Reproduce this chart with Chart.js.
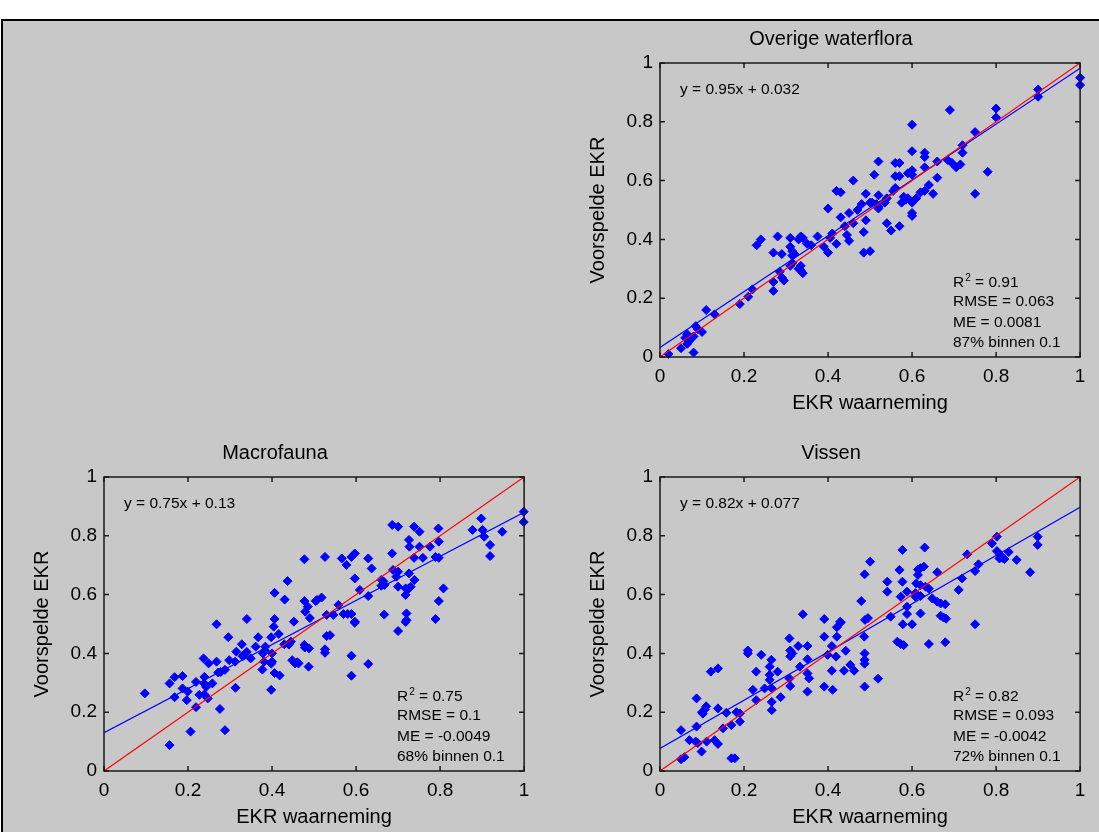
<!DOCTYPE html>
<html>
<head>
<meta charset="utf-8">
<script src="https://cdn.jsdelivr.net/npm/chart.js@4.4.0/dist/chart.umd.min.js"></script>
<style>
  html, body { margin: 0; padding: 0; background: #fff; width: 1099px; height: 832px; overflow: hidden; }
  #fig { position: absolute; left: 1px; top: 19px; width: 1100px; height: 820px; background: #c8c8c8;
         border-left: 2px solid #000; border-top: 2px solid #000; }
  canvas { position: absolute; }
</style>
</head>
<body>
<div id="fig"></div>
<canvas id="flora" width="514" height="392" style="left:580px;top:23px"></canvas>
<canvas id="macro" width="514" height="392" style="left:24px;top:437px"></canvas>
<canvas id="vis" width="514" height="392" style="left:580px;top:437px"></canvas>
<script>
// axis ticks
const tickValues = [0, 0.2, 0.4, 0.6, 0.8, 1];
const tickLabels = ['0', '0.2', '0.4', '0.6', '0.8', '1'];
const xTitle = 'EKR waarneming';
const yTitle = 'Voorspelde EKR';

// Overige waterflora
const floraObs = [0.69,0.60,0.80,0.80,0.90,0.90,1.0,1.0,0.75,0.75,0.78,0.60,0.63,0.63,0.63,0.72,0.72,0.66,0.685,0.695,0.705,0.715,0.52,0.51,0.56,0.57,0.56,0.57,0.59,0.60,0.60,0.66,0.64,0.63,0.62,0.65,0.555,0.56,0.58,0.59,0.61,0.52,0.54,0.505,0.52,0.60,0.585,
  0.46,0.42,0.43,0.49,0.48,0.47,0.45,0.40,0.50,
  0.43,0.44,0.46,0.445,0.45,0.485,0.485,0.50,0.49,0.41,0.42,0.39,0.40,0.405,0.375,0.36,0.35,0.335,0.34,0.33,0.31,0.31,0.315,0.32,0.315,0.315,0.335,0.335,0.34,0.33,0.31,0.29,0.28,0.27,0.24,0.23,0.29,0.295,0.285,0.27,0.27,0.22,0.21,0.19,0.13,0.11,0.085,0.09,0.10,0.065,0.06,0.07,0.065,0.08,0.05,0.08,0.02,
  0.515,0.535,0.575,0.60,0.60,0.54,0.55,0.57,0.52];
const floraPred = [0.84,0.79,0.845,0.815,0.91,0.885,0.95,0.925,0.765,0.555,0.63,0.70,0.695,0.68,0.645,0.72,0.695,0.665,0.67,0.66,0.645,0.655,0.665,0.62,0.66,0.66,0.615,0.615,0.625,0.62,0.635,0.61,0.585,0.565,0.56,0.555,0.565,0.575,0.545,0.54,0.54,0.55,0.54,0.525,0.505,0.49,0.535,
  0.60,0.565,0.56,0.555,0.52,0.50,0.49,0.505,0.525,
  0.475,0.445,0.455,0.415,0.395,0.425,0.355,0.36,0.465,0.42,0.385,0.375,0.355,0.405,0.41,0.38,0.385,0.41,0.405,0.40,0.405,0.375,0.36,0.35,0.345,0.32,0.31,0.295,0.285,0.30,0.31,0.35,0.41,0.355,0.40,0.38,0.27,0.26,0.29,0.255,0.225,0.23,0.205,0.18,0.145,0.16,0.105,0.095,0.085,0.077,0.065,0.055,0.045,0.07,0.03,0.015,0.01,
  0.52,0.525,0.525,0.525,0.48,0.455,0.43,0.445,0.51];

// Macrofauna
const macroObs = [0.477,0.437,0.406,0.43,0.477,0.485,0.479,0.504,0.34,0.406,0.268,0.452,0.49,
  0.686,0.70,0.738,0.751,0.796,0.898,0.877,0.901,0.905,0.948,0.999,0.999,0.919,0.919,0.726,0.727,0.751,0.776,0.797,0.686,0.738,0.759,0.789,0.797,0.526,0.566,0.577,0.589,0.597,0.629,0.637,0.597,0.609,0.629,0.66,0.665,0.688,0.70,0.696,0.726,0.739,0.668,0.66,0.70,0.718,0.725,0.73,0.718,0.808,0.797,0.507,0.518,0.558,0.53,0.546,0.57,0.58,0.589,0.667,0.72,0.72,0.789,0.597,
  0.404,0.296,0.367,0.398,0.416,0.429,0.44,0.445,0.477,0.488,0.384,0.361,0.328,0.315,0.333,0.34,0.33,0.349,0.298,0.312,0.378,0.383,0.381,0.40,0.40,0.398,0.377,0.406,0.418,0.398,0.448,0.455,0.46,0.463,0.487,0.478,0.268,0.237,0.249,0.288,0.278,0.272,0.239,0.219,0.239,0.243,0.258,0.187,0.168,0.156,0.187,0.199,0.197,0.168,0.227,0.247,0.239,0.313,0.219,0.276,0.097,0.206,0.288,0.156,
  0.597,0.718,0.70,0.53,0.538,0.526,0.526,0.589,0.629,0.589];
const macroPred = [0.72,0.646,0.606,0.583,0.578,0.559,0.542,0.578,0.517,0.517,0.499,0.508,0.52,
  0.837,0.831,0.831,0.814,0.825,0.859,0.82,0.82,0.797,0.814,0.882,0.847,0.769,0.731,0.786,0.763,0.763,0.763,0.78,0.74,0.725,0.725,0.728,0.725,0.728,0.723,0.701,0.728,0.74,0.723,0.689,0.655,0.616,0.595,0.65,0.645,0.684,0.678,0.661,0.672,0.65,0.633,0.63,0.627,0.621,0.62,0.627,0.599,0.621,0.578,0.582,0.59,0.565,0.531,0.531,0.534,0.534,0.534,0.532,0.536,0.513,0.517,0.508,
  0.491,0.455,0.455,0.455,0.466,0.431,0.43,0.44,0.429,0.417,0.423,0.423,0.431,0.406,0.395,0.405,0.39,0.383,0.377,0.372,0.40,0.41,0.372,0.40,0.372,0.365,0.345,0.333,0.325,0.276,0.377,0.366,0.37,0.366,0.355,0.42,0.372,0.383,0.366,0.344,0.337,0.335,0.32,0.303,0.297,0.286,0.298,0.323,0.319,0.298,0.281,0.27,0.241,0.251,0.259,0.247,0.26,0.283,0.217,0.211,0.264,0.134,0.139,0.088,
  0.504,0.507,0.476,0.459,0.462,0.414,0.402,0.392,0.364,0.324];

// Vissen
const visObs = [0.50,0.487,0.479,0.488,0.495,0.34,0.391,0.429,
  0.802,0.79,0.899,0.899,0.802,0.81,0.815,0.83,0.82,0.808,0.849,0.881,0.731,0.758,0.75,0.719,0.711,0.66,0.63,0.577,0.57,0.614,0.62,0.628,0.614,0.577,0.61,0.62,0.541,0.541,0.632,0.64,0.588,0.608,0.62,0.608,0.573,0.648,0.66,0.668,0.679,0.668,0.675,0.681,0.588,0.588,0.62,0.549,0.75,0.60,0.578,
  0.679,0.64,0.565,0.573,0.58,0.486,0.487,0.487,0.487,0.442,0.419,0.453,0.438,0.462,0.409,0.487,0.519,0.421,0.421,0.43,0.391,0.399,0.409,0.391,0.411,0.351,0.351,0.351,0.355,0.351,0.329,0.333,0.308,0.31,0.315,0.31,0.308,0.31,0.265,0.261,0.261,0.261,0.28,0.266,0.241,0.229,0.209,0.209,0.249,0.221,0.229,0.287,0.266,0.266,0.138,0.121,0.087,0.11,0.107,0.10,0.102,0.138,0.158,0.182,0.19,0.19,0.17,0.15,0.05,0.087,0.07,0.085,0.09,0.111,0.13,0.138,0.099,0.058,0.05,0.17,0.178];
const visPred = [0.712,0.669,0.578,0.514,0.52,0.533,0.517,0.508,
  0.797,0.774,0.797,0.769,0.748,0.735,0.725,0.745,0.721,0.723,0.718,0.676,0.737,0.703,0.68,0.655,0.616,0.676,0.76,0.752,0.684,0.685,0.69,0.695,0.667,0.644,0.638,0.632,0.644,0.61,0.627,0.62,0.61,0.605,0.595,0.593,0.593,0.587,0.576,0.57,0.567,0.528,0.522,0.518,0.559,0.534,0.536,0.525,0.499,0.499,0.499,
  0.438,0.432,0.44,0.432,0.428,0.457,0.40,0.378,0.365,0.409,0.389,0.361,0.341,0.341,0.341,0.287,0.314,0.457,0.489,0.505,0.457,0.395,0.425,0.287,0.276,0.425,0.38,0.332,0.315,0.27,0.425,0.355,0.451,0.41,0.40,0.39,0.315,0.289,0.378,0.355,0.327,0.31,0.338,0.281,0.395,0.338,0.41,0.40,0.281,0.276,0.241,0.251,0.235,0.207,0.349,0.338,0.247,0.22,0.21,0.2,0.195,0.213,0.198,0.2,0.196,0.168,0.156,0.145,0.139,0.151,0.105,0.1,0.095,0.1,0.105,0.092,0.066,0.047,0.04,0.043,0.043];

// fit statistics
const panelTitles = ['Overige waterflora', 'Macrofauna', 'Vissen'];
const fitSlope = [0.95, 0.75, 0.82];
const fitIntercept = [0.032, 0.13, 0.077];
const fitText = ['y = 0.95x + 0.032', 'y = 0.75x + 0.13', 'y = 0.82x + 0.077'];
const r2Text = ['0.91', '0.75', '0.82'];
const rmseText = ['RMSE = 0.063', 'RMSE = 0.1', 'RMSE = 0.093'];
const meText = ['ME = 0.0081', 'ME = -0.0049', 'ME = -0.0042'];
const withinText = ['87% binnen 0.1', '68% binnen 0.1', '72% binnen 0.1'];

const FONT = '"Liberation Sans", Arial, sans-serif';
Chart.defaults.color = '#000';
Chart.defaults.font.family = FONT;

// box with inward ticks and the text annotations
const framePlugin = {
  id: 'frame',
  afterDraw(chart, args, opts) {
    const {ctx, chartArea: a, scales: {x, y}} = chart;
    ctx.save();
    ctx.strokeStyle = '#1a1a1a';
    ctx.lineWidth = 1.5;
    ctx.strokeRect(a.left, a.top, a.right - a.left, a.bottom - a.top);
    ctx.beginPath();
    tickValues.forEach(v => {
      const px = x.getPixelForValue(v);
      const py = y.getPixelForValue(v);
      ctx.moveTo(px, a.bottom); ctx.lineTo(px, a.bottom - 5);
      ctx.moveTo(px, a.top); ctx.lineTo(px, a.top + 5);
      ctx.moveTo(a.left, py); ctx.lineTo(a.left + 5, py);
      ctx.moveTo(a.right, py); ctx.lineTo(a.right - 5, py);
    });
    ctx.stroke();

    const i = opts.idx;
    ctx.fillStyle = '#000';
    ctx.textBaseline = 'middle';
    ctx.textAlign = 'left';
    ctx.font = '15.5px ' + FONT;
    ctx.fillText(fitText[i], a.left + 20, a.top + 27);

    const sx = a.left + 293;
    let sy = a.bottom - 74;
    ctx.fillText('R', sx, sy);
    let w = ctx.measureText('R').width;
    ctx.font = '10px ' + FONT;
    ctx.fillText('2', sx + w + 1, sy - 5);
    w += ctx.measureText('2').width + 1;
    ctx.font = '15.5px ' + FONT;
    ctx.fillText(' = ' + r2Text[i], sx + w, sy);
    ctx.fillText(rmseText[i], sx, sy + 19);
    ctx.fillText(meText[i], sx, sy + 40);
    ctx.fillText(withinText[i], sx, sy + 60);
    ctx.restore();
  }
};

function makePanel(id, idx, obs, pred) {
  const points = obs.map((v, k) => ({x: v, y: pred[k]}));
  const oneToOne = [{x: 0, y: 0}, {x: 1, y: 1}];
  const fit = [{x: 0, y: fitIntercept[idx]}, {x: 1, y: fitSlope[idx] + fitIntercept[idx]}];
  new Chart(document.getElementById(id), {
    type: 'scatter',
    data: {
      datasets: [
        {data: oneToOne, showLine: true, borderColor: '#ff0000', borderWidth: 1.2, pointRadius: 0},
        {data: fit, showLine: true, borderColor: '#0000ff', borderWidth: 1.2, pointRadius: 0},
        {data: points, pointStyle: 'rectRot', pointRadius: 4.5, backgroundColor: '#0000ff',
         borderColor: '#0000ff', borderWidth: 1, clip: false}
      ]
    },
    options: {
      responsive: false,
      animation: false,
      events: [],
      layout: {padding: {left: 0, right: 12, top: 0, bottom: 0}},
      plugins: {
        legend: {display: false},
        tooltip: {enabled: false},
        title: {display: true, text: panelTitles[idx], font: {size: 20, weight: 'normal'},
                padding: {top: 4, bottom: 12}},
        frame: {idx: idx}
      },
      scales: {
        x: {
          type: 'linear', min: 0, max: 1,
          afterFit: s => { s.height = 58; },
          grid: {display: false, drawTicks: false},
          border: {display: false},
          ticks: {stepSize: 0.2, padding: 8.6, font: {size: 19}, callback: (v, k) => tickLabels[k]},
          title: {display: true, text: xTitle, font: {size: 20}, padding: {top: 0, bottom: 0}}
        },
        y: {
          type: 'linear', min: 0, max: 1,
          afterFit: s => { s.width = 80; },
          grid: {display: false, drawTicks: false},
          border: {display: false},
          ticks: {stepSize: 0.2, padding: 7, font: {size: 19}, callback: (v, k) => tickLabels[k]},
          title: {display: true, text: yTitle, font: {size: 20}, padding: {top: 6, bottom: 0}}
        }
      }
    },
    plugins: [framePlugin]
  });
}

makePanel('flora', 0, floraObs, floraPred);
makePanel('macro', 1, macroObs, macroPred);
makePanel('vis', 2, visObs, visPred);
</script>
</body>
</html>
